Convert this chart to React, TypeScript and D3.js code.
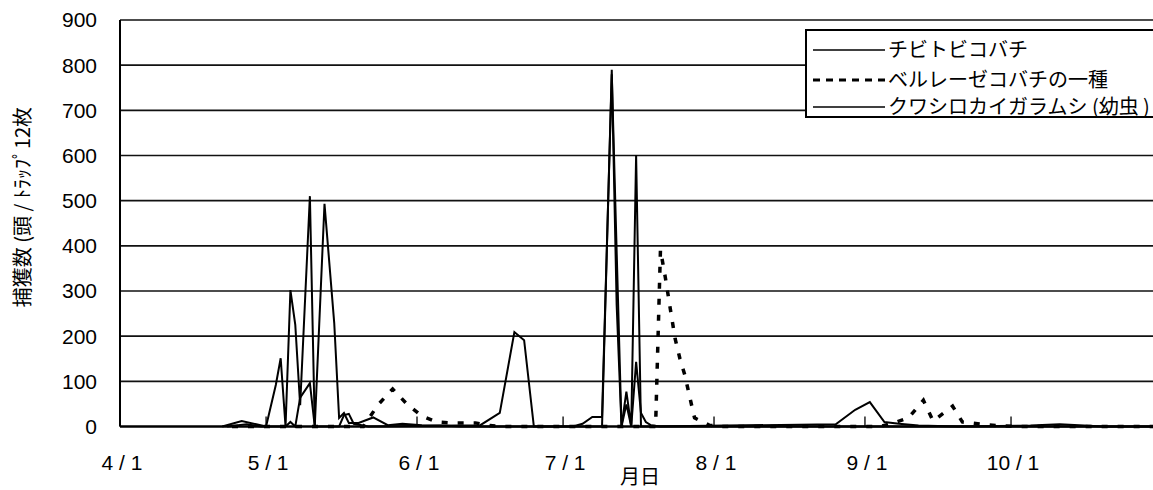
import React from "react";
import * as d3 from "d3";

// ---------- data ----------
const seriesNames = ["チビトビコバチ", "ベルレーゼコバチの一種", "クワシロカイガラムシ (幼虫 )"];

const chibiDates = ["4/23","4/27","4/30","5/1","5/3","5/4","5/5","5/6","5/7","5/8","5/10","5/11","5/16","5/17","5/18","5/19","5/22","6/14","6/18","6/21","6/23","6/25","7/3","7/5","7/7","7/9","7/11","7/13","7/14","7/15","7/16","7/17","7/18","7/19","7/21","8/20","10/31"];
const chibiValues = [0,5,0,0,92,151,0,302,225,47,510,0,0,25,28,6,0,3,30,209,191,0,0,6,21,21,780,0,49,0,143,30,10,3,0,0,0];

const berleseDates = ["4/24","5/21","5/24","5/27","5/30","6/2","6/5","6/8","6/13","6/16","6/19","7/20","7/21","7/22","7/23","7/24","7/25","7/26","7/27","7/28","7/31","8/2","9/4","9/7","9/10","9/13","9/15","9/19","9/21","9/25","9/28","10/2","10/31"];
const berleseValues = [0,0,48,83,49,23,10,8,8,2,0,0,391,330,262,195,150,114,66,19,3,0,0,8,20,58,12,45,10,5,2,0,0];

const kuwaDates = ["4/22","4/26","4/29","5/1","5/5","5/6","5/7","5/8","5/10","5/11","5/13","5/15","5/16","5/17","5/18","5/20","5/23","5/26","5/29","6/2","6/6","6/10","7/9","7/11","7/12","7/13","7/14","7/15","7/16","7/17","7/19","8/26","8/30","9/2","9/5","9/8","9/12","9/20","10/5","10/11","10/16","10/20","10/31"];
const kuwaValues = [0,12,5,0,0,10,0,64,96,0,493,229,19,30,8,8,20,3,6,3,2,0,0,790,270,0,77,0,601,0,0,5,37,54,10,6,2,0,2,5,2,0,0];

const yTicks = [0, 100, 200, 300, 400, 500, 600, 700, 800, 900];
const xTickLabels = ["4/1", "5/1", "6/1", "7/1", "8/1", "9/1", "10/1"];
const yTitle = "捕獲数 (頭 / ﾄﾗｯﾌﾟ12枚";
const xTitle = "月日";

// ---------- helpers ----------
const YEAR = 2001;
const parseMD = (s: string) => {
  const [m, d] = s.split("/").map(Number);
  return new Date(Date.UTC(YEAR, m - 1, d));
};

const W = 1153;
const H = 490;
const left = 120;
const pxPerDay = 4.869;
const x = d3
  .scaleUtc()
  .domain([parseMD("4/1"), parseMD("10/31")])
  .range([left, left + 213 * pxPerDay]);
const y = d3.scaleLinear().domain([0, 900]).range([426.5, 20]);

const font = "'Liberation Sans', Arial, 'Noto Sans CJK JP', sans-serif";
const jpFont = "'Noto Sans CJK JP', 'Liberation Sans', sans-serif";

type Pt = { date: Date; v: number };
const toPts = (ds: string[], vs: number[]): Pt[] => ds.map((d, i) => ({ date: parseMD(d), v: vs[i] }));

const line = d3
  .line<Pt>()
  .x((p) => x(p.date))
  .y((p) => y(p.v));

export default function App() {
  const chibi = toPts(chibiDates, chibiValues);
  const berlese = toPts(berleseDates, berleseValues);
  const kuwa = toPts(kuwaDates, kuwaValues);

  const legendRows = [
    { name: seriesNames[0], dash: undefined as string | undefined, y: 50 },
    { name: seriesNames[1], dash: "7,6", y: 80 },
    { name: seriesNames[2], dash: undefined, y: 107 },
  ];

  return (
    <div style={{ position: "fixed", left: 0, top: 0 }}>
      <svg width={W} height={H} style={{ display: "block", background: "#fff" }}>
        <defs>
          <clipPath id="plot">
            <rect x={left} y={0} width={W - left} height={432} />
          </clipPath>
        </defs>
        {/* gridlines */}
        {yTicks.filter((t) => t > 0).map((t) => (
          <line key={t} x1={left} x2={W} y1={y(t)} y2={y(t)} stroke="#111" strokeWidth={1.7} />
        ))}
        {/* y axis */}
        <line x1={left} x2={left} y1={y(900)} y2={y(0)} stroke="#000" strokeWidth={2} />
        {/* x ticks (inside) */}
        {xTickLabels.map((t) => (
          <line key={t} x1={x(parseMD(t))} x2={x(parseMD(t))} y1={y(0)} y2={y(0) - 10} stroke="#000" strokeWidth={1.3} />
        ))}
        {/* series */}
        <g clipPath="url(#plot)" fill="none" strokeLinejoin="miter">
          <path d={line(kuwa) || ""} stroke="#000" strokeWidth={2} />
          <path d={line(chibi) || ""} stroke="#000" strokeWidth={2} />
          <path d={line(berlese) || ""} stroke="#000" strokeWidth={3.5} strokeDasharray="6,10" />
        </g>
        {/* x axis */}
        <line x1={left} x2={W} y1={y(0)} y2={y(0)} stroke="#000" strokeWidth={2.6} />
        {/* y labels */}
        {yTicks.map((t) => (
          <text key={t} x={97} y={y(t)} dy="0.35em" textAnchor="end" fontFamily={font} fontSize={21} fill="#000">
            {t}
          </text>
        ))}
        {/* x labels */}
        {xTickLabels.map((t) => (
          <text key={t} x={x(parseMD(t)) + 2} y={470} textAnchor="middle" fontFamily={font} fontSize={21} fill="#000">
            {t.replace("/", " / ")}
          </text>
        ))}
        {/* axis titles */}
        <text x={640} y={484} textAnchor="middle" fontFamily={jpFont} fontSize={20} fill="#000">
          {xTitle}
        </text>
        <text
          transform={`translate(30, 207) rotate(-90)`}
          textAnchor="middle"
          fontFamily={jpFont}
          fontSize={20}
          fill="#000"
        >
          {yTitle}
        </text>
        {/* legend */}
        <rect x={806} y={30} width={420} height={87} fill="#fff" stroke="#000" strokeWidth={2} />
        {legendRows.map((r) => (
          <g key={r.name}>
            <line x1={813} x2={885} y1={r.y} y2={r.y} stroke="#000" strokeWidth={r.dash ? 3 : 1.6} strokeDasharray={r.dash} />
            <text x={888} y={r.y} dy="0.35em" fontFamily={jpFont} fontSize={20} fill="#000">
              {r.name}
            </text>
          </g>
        ))}
      </svg>
    </div>
  );
}
